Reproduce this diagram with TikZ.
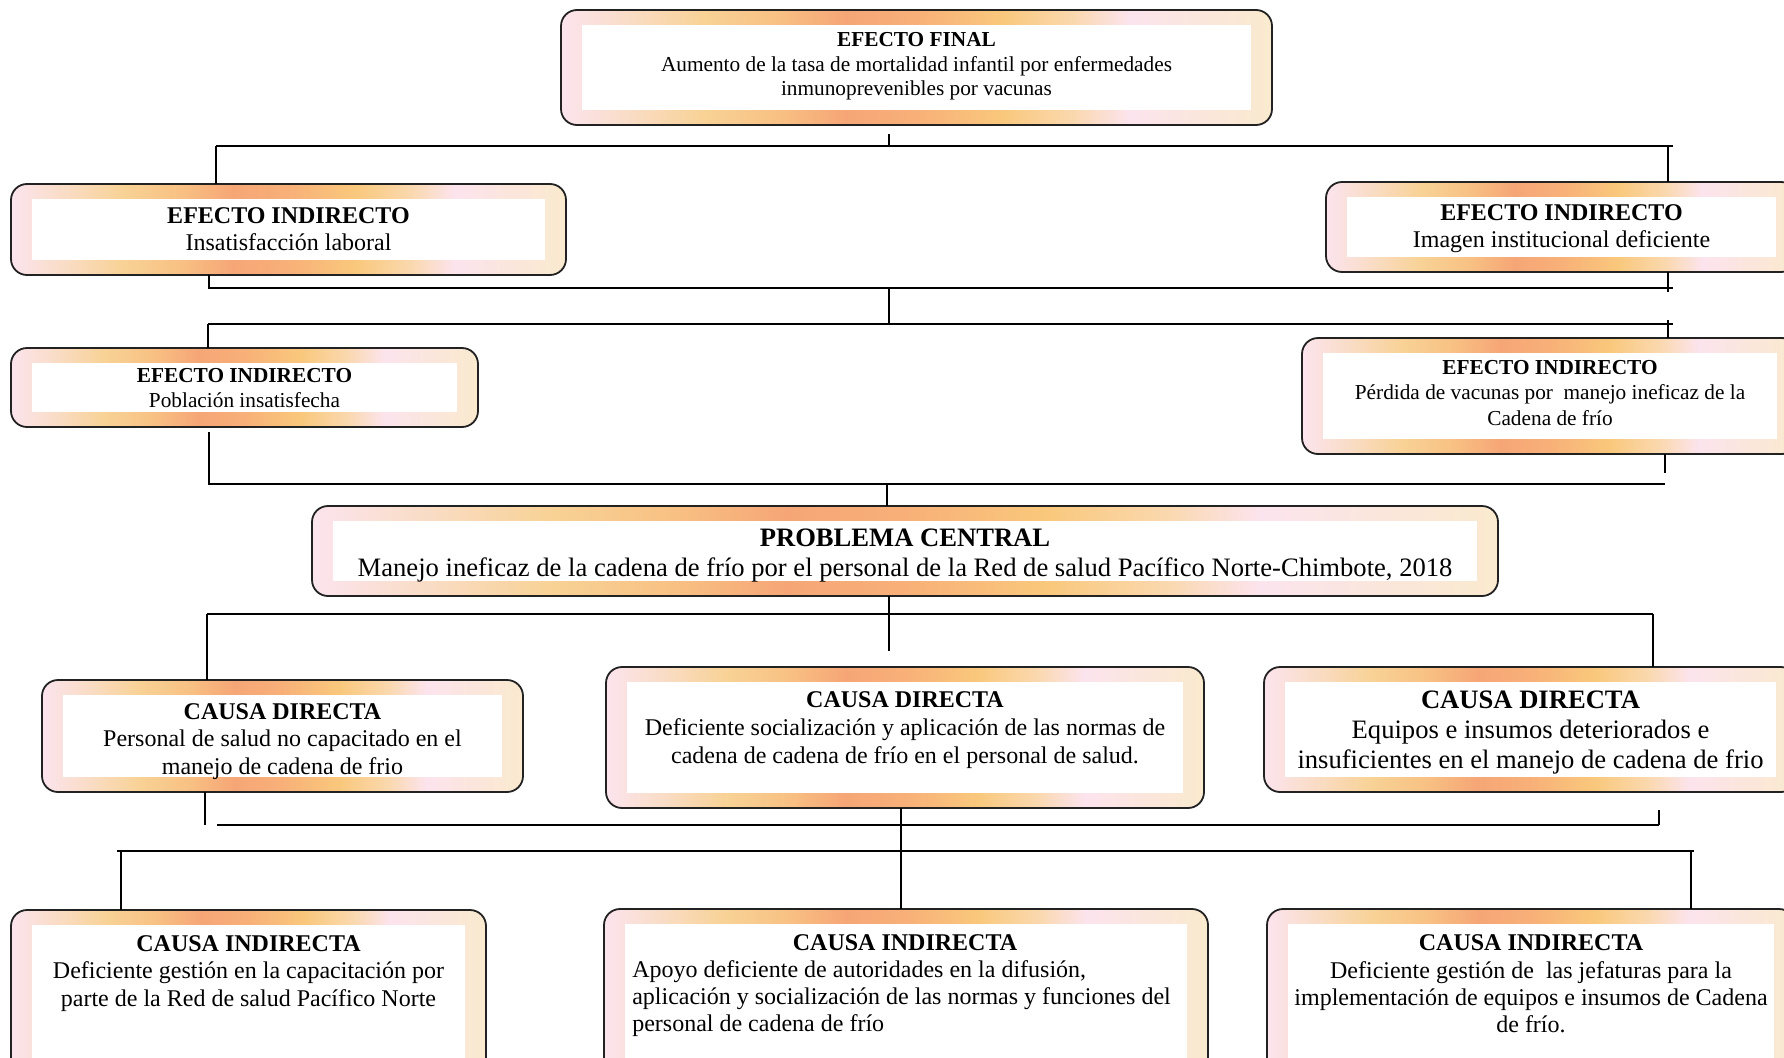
\documentclass[tikz,border=0pt]{standalone}
\usepackage{fontspec}
\setmainfont{Liberation Serif}
\definecolor{rosa}{HTML}{FCE4EE}
\definecolor{durazno}{HTML}{F9DCC4}
\definecolor{amarillo}{HTML}{F8D296}
\definecolor{naranjaclaro}{HTML}{F8C284}
\definecolor{salmon}{HTML}{F6A676}
\definecolor{naranja}{HTML}{F8B078}
\definecolor{ambar}{HTML}{F9C87C}
\definecolor{crema}{HTML}{FAD8AE}
\definecolor{rosacrema}{HTML}{FBE6DC}
\definecolor{arena}{HTML}{FAEACE}
\definecolor{borde}{HTML}{222222}
\pgfdeclarehorizontalshading{cadena}{100bp}{color(0bp)=(rosa); color(25bp)=(rosa);
  color(30bp)=(durazno); color(35bp)=(amarillo); color(40bp)=(naranjaclaro);
  color(45bp)=(salmon); color(50bp)=(naranja); color(56bp)=(ambar);
  color(61bp)=(crema); color(65bp)=(rosa); color(70bp)=(rosacrema);
  color(75bp)=(arena); color(100bp)=(arena)}
\def\tam#1#2{\fontsize{#1}{#2}\selectfont}
\def\conec{\draw[linea]}
\tikzset{
  caja/.style={draw=borde, line width=1.8pt, rounded corners=16pt, shade, shading=cadena,
    inner sep=0pt, outer sep=0pt,
    path picture={\fill[white, sharp corners] ([xshift=21pt,yshift=-15pt]path picture bounding box.north west)
      rectangle ([xshift=-21pt,yshift=15pt]path picture bounding box.south east);}},
  texto/.style={align=center, inner sep=0pt},
  linea/.style={line width=1.6pt, black}
}

\begin{document}
\begin{tikzpicture}[x=1pt,y=-1pt]
  \useasboundingbox (0,0) rectangle (1784,1057);
  \fill[white] (0,0) rectangle (1784,1057);
  \clip (0,0) rectangle (1784,1057);

  % efectos
  \node[caja, minimum width=711pt, minimum height=115pt] (ef) at (916.5,67.5) {};
  \node[texto, font=\tam{21.3}{24.5}] (ef-t) at ([yshift=1pt]ef.center)
    {\textbf{EFECTO FINAL}\\Aumento de la tasa de mortalidad infantil por enfermedades\\inmunoprevenibles por vacunas};
  \node[caja, minimum width=555pt, minimum height=91pt] (ei1) at (288.5,229.5) {};
  \node[texto, font=\tam{24}{27.3}] (ei1-t) at ([yshift=0.5pt]ei1.center)
    {\textbf{EFECTO INDIRECTO}\\Insatisfacción laboral};
  \node[caja, minimum width=471pt, minimum height=90pt] (ei2) at (1561.5,227) {};
  \node[texto, font=\tam{24}{27.3}] (ei2-t) at ([yshift=-1.5pt]ei2.center)
    {\textbf{EFECTO INDIRECTO}\\Imagen institucional deficiente};
  \node[caja, minimum width=467pt, minimum height=79pt] (ei3) at (244.5,387.5) {};
  \node[texto, font=\tam{21.3}{25}] (ei3-t) at ([yshift=-0.5pt]ei3.center)
    {\textbf{EFECTO INDIRECTO}\\Población insatisfecha};
  \node[caja, minimum width=496pt, minimum height=116pt] (ei4) at (1550,396) {};
  \node[texto, font=\tam{21.3}{25.6}] (ei4-t) at ([yshift=3pt]ei4.center)
    {\textbf{EFECTO INDIRECTO}\\Pérdida de vacunas por~ manejo ineficaz de la\\Cadena de frío};

  % problema central
  \node[caja, minimum width=1186pt, minimum height=90pt] (pc) at (905,551) {};
  \node[texto, font=\tam{26.6}{30}] (pc-t) at ([yshift=-5pt]pc.center)
    {\textbf{PROBLEMA CENTRAL}\\Manejo ineficaz de la cadena de frío por el personal de la Red de salud Pacífico Norte-Chimbote, 2018};

  % causas directas
  \node[caja, minimum width=481pt, minimum height=112pt] (cd1) at (282.5,736) {};
  \node[texto, font=\tam{24}{27.3}] (cd1-t) at ([yshift=-5.5pt]cd1.center)
    {\textbf{CAUSA DIRECTA}\\Personal de salud no capacitado en el\\manejo de cadena de frio};
  \node[caja, minimum width=598pt, minimum height=141pt] (cd2) at (905,737.5) {};
  \node[texto, font=\tam{24}{28}] (cd2-t) at ([yshift=7.5pt]cd2.center)
    {\textbf{CAUSA DIRECTA}\\Deficiente socialización y aplicación de las normas de\\cadena de cadena de frío en el personal de salud.};
  \node[caja, minimum width=533pt, minimum height=125pt] (cd3) at (1530.5,729.5) {};
  \node[texto, font=\tam{26.6}{30}] (cd3-t) at ([yshift=-3.5pt]cd3.center)
    {\textbf{CAUSA DIRECTA}\\Equipos e insumos deteriorados e\\insuficientes en el manejo de cadena de frio};

  % causas indirectas
  \node[caja, minimum width=475pt, minimum height=170pt] (ci1) at (248.5,995) {};
  \node[texto, font=\tam{24}{27.3}] (ci1-t) at ([yshift=-63.5pt]ci1.north)
    {\textbf{CAUSA INDIRECTA}\\Deficiente gestión en la capacitación por\\parte de la Red de salud Pacífico Norte};
  \node[caja, minimum width=604pt, minimum height=170pt] (ci2) at (906,994) {};
  \node[texto, font=\tam{24}{27.3}] (ci2-t) at ([xshift=-4.5pt,yshift=-76.5pt]ci2.north)
    {\begin{tabular}{@{}l@{}}\multicolumn{1}{@{}c@{}}{\hspace*{7pt}\textbf{CAUSA INDIRECTA}}\\
      Apoyo deficiente de autoridades en la difusión,\\
      aplicación y socialización de las normas y funciones del\\
      personal de cadena de frío\end{tabular}};
  \node[caja, minimum width=528pt, minimum height=170pt] (ci3) at (1531,994) {};
  \node[texto, font=\tam{24}{27.3}] (ci3-t) at ([yshift=-75pt]ci3.north)
    {\textbf{CAUSA INDIRECTA}\\Deficiente gestión de~ las jefaturas para la\\implementación de equipos e insumos de Cadena\\de frío.};

  % conectores
  \coordinate (n1) at (889,146);
  \coordinate (n1i) at (216,146);
  \coordinate (n1d) at (1673,146);
  \coordinate (n1r) at (1668,146);
  \conec ([yshift=-9pt]ef.south -| n1) -- (n1);
  \conec (n1i) -- (n1d);
  \conec (n1i) -- (n1i |- ei1.north);
  \conec (n1r) -- (n1r |- ei2.north);

  \coordinate (n2) at (889,288);
  \coordinate (n2i) at (209,288);
  \coordinate (n2d) at (1673,288);
  \coordinate (n2r) at (1668,288);
  \conec (ei1.south -| n2i) -- (n2i) -- (n2d);
  \conec (ei2.south -| n2r) -- ([yshift=-4pt]n2r);

  \coordinate (n3) at (889,324);
  \coordinate (n3i) at (208,324);
  \coordinate (n3d) at (1673,324);
  \coordinate (n3r) at (1668,324);
  \conec (n2) -- (n3);
  \conec (n3i) -- (n3d);
  \conec (n3i) -- (n3i |- ei3.north);
  \conec ([yshift=4pt]n3r) -- (n3r |- ei4.north);

  \coordinate (n4) at (887,484);
  \coordinate (n4i) at (209,484);
  \coordinate (n4d) at (1665,484);
  \conec ([yshift=-5pt]ei3.south -| n4i) -- (n4i) -- (n4d);
  \conec (ei4.south -| n4d) -- ([yshift=11pt]n4d);
  \conec (n4) -- (n4 |- pc.north);

  \coordinate (n5) at (889,614);
  \coordinate (n5i) at (207,614);
  \coordinate (n5d) at (1653,614);
  \conec (pc.south -| n5) -- ([yshift=-37pt]n5);
  \conec (n5i) -- (n5d);
  \conec (n5i) -- (n5i |- cd1.north);
  \conec (n5d) -- (n5d |- cd3.north);

  \coordinate (n6c) at (205,825);
  \coordinate (n6i) at (217,825);
  \coordinate (n6d) at (1659,825);
  \conec (cd1.south -| n6c) -- (n6c);
  \conec (n6i) -- (n6d);
  \conec ([yshift=15pt]n6d) -- (n6d);

  \coordinate (n7) at (901,851);
  \coordinate (n7i) at (117,851);
  \coordinate (n7d) at (1694,851);
  \coordinate (n7a) at (121,851);
  \coordinate (n7b) at (1691,851);
  \conec (cd2.south -| n7) -- (n7 |- ci2.north);
  \conec (n7i) -- (n7d);
  \conec (n7a) -- (n7a |- ci1.north);
  \conec (n7b) -- (n7b |- ci3.north);
\end{tikzpicture}
\end{document}
